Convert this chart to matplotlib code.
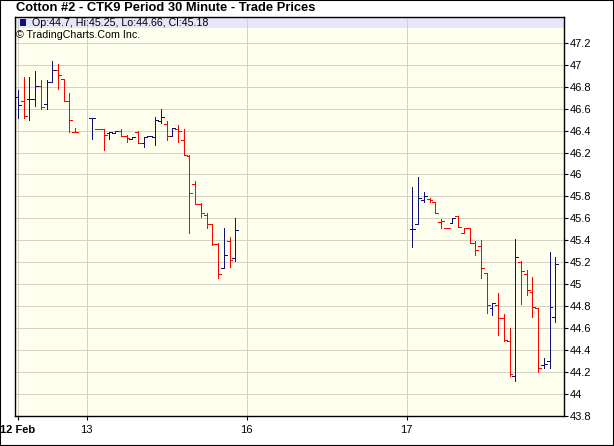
import matplotlib
matplotlib.use('Agg')
import matplotlib.pyplot as plt
import numpy as np
from matplotlib.patches import Rectangle
from matplotlib.ticker import FuncFormatter

plt.rcParams['font.family'] = ['Liberation Sans', 'DejaVu Sans']

title = "Cotton #2 - CTK9 Period 30 Minute - Trade Prices"
credit = "\u00a9 TradingCharts.Com Inc."
day_labels = ['12 Feb', '13', '16', '17']
day_slot = [0, 12, 40, 68]
price_ticks = [43.8, 44.0, 44.2, 44.4, 44.6, 44.8, 45.0, 45.2, 45.4, 45.6,
               45.8, 46.0, 46.2, 46.4, 46.6, 46.8, 47.0, 47.2]

# 30 minute bar slots (12 Feb, 13 Feb, 17 Feb)
bar_slot = list(range(0, 11)) + list(range(13, 39)) + list(range(69, 95))

opens = [46.71, 46.67, 46.69, 46.69, 46.81, 46.64, 46.84, 46.95, 46.87, 46.67, 46.39,
         46.51, 46.41, 46.41, 46.38, 46.38, 46.40, 46.35, 46.32, 46.39, 46.29, 46.35, 46.34, 46.49,
         46.46, 46.35, 46.41, 46.31, 46.17, 45.91, 45.73, 45.63, 45.55, 45.37, 45.15, 45.39, 45.24,
         45.50, 45.55, 45.77, 45.78, 45.75, 45.57, 45.51, 45.56, 45.62, 45.47, 45.51, 45.38, 45.35,
         45.10, 44.78, 44.81, 44.69, 44.48, 44.16, 45.20, 45.09, 44.93, 44.78, 44.26, 44.30, 44.70]
highs = [46.77, 46.89, 46.89, 46.94, 46.86, 46.86, 47.03, 47.01, 46.87, 46.74, 46.42,
         46.51, 46.41, 46.41, 46.39, 46.40, 46.41, 46.36, 46.34, 46.40, 46.34, 46.35, 46.52, 46.60,
         46.49, 46.42, 46.45, 46.41, 46.18, 45.94, 45.74, 45.65, 45.55, 45.38, 45.51, 45.43, 45.60,
         45.89, 45.98, 45.84, 45.79, 45.75, 45.59, 45.51, 45.60, 45.62, 45.51, 45.51, 45.39, 45.40,
         45.10, 44.83, 44.92, 44.73, 44.60, 45.41, 45.21, 45.13, 45.07, 44.78, 44.33, 45.29, 45.25]
lows = [46.51, 46.51, 46.50, 46.62, 46.60, 46.60, 46.84, 46.78, 46.67, 46.39, 46.39,
        46.32, 46.41, 46.22, 46.32, 46.38, 46.35, 46.30, 46.32, 46.29, 46.25, 46.35, 46.27, 46.47,
        46.31, 46.35, 46.30, 46.18, 45.47, 45.73, 45.61, 45.51, 45.36, 45.06, 45.15, 45.16, 45.21,
        45.34, 45.55, 45.75, 45.75, 45.65, 45.51, 45.51, 45.56, 45.52, 45.47, 45.38, 45.27, 45.06,
        44.74, 44.72, 44.54, 44.48, 44.16, 44.12, 44.82, 44.90, 44.70, 44.20, 44.24, 44.24, 44.66]
closes = [46.63, 46.53, 46.69, 46.81, 46.61, 46.84, 46.95, 46.91, 46.67, 46.50, 46.39,
          46.51, 46.41, 46.36, 46.39, 46.40, 46.35, 46.33, 46.34, 46.29, 46.34, 46.35, 46.50, 46.52,
          46.35, 46.42, 46.40, 46.18, 45.83, 45.73, 45.65, 45.55, 45.37, 45.09, 45.27, 45.22, 45.49,
          45.50, 45.79, 45.80, 45.77, 45.65, 45.58, 45.51, 45.60, 45.52, 45.51, 45.38, 45.31, 45.15,
          44.81, 44.83, 44.69, 44.49, 44.18, 45.25, 45.12, 44.95, 44.79, 44.24, 44.27, 44.79, 45.18]

up_col = '#10107a'
dn_col = '#ff0000'

x = np.array(bar_slot)
o = np.array(opens)
h = np.array(highs)
l = np.array(lows)
c = np.array(closes)
up = np.r_[True, c[1:] >= c[:-1]]
cols = np.where(up, up_col, dn_col)

fig = plt.figure(figsize=(6.14, 4.46), dpi=100)
ax = fig.add_axes([14.7 / 614, 30 / 446, 549.3 / 614, 399.3 / 446])
ax.set_facecolor('#ffffee')
ax.set_xlim(-0.58, 95.52)
ax.set_ylim(43.8, 47.437)

ax.vlines(x, l, h, colors=cols, lw=0.6, antialiased=False)
ax.hlines(o, x - 0.5, x, colors=cols, lw=0.6, antialiased=False)
ax.hlines(c, x, x + 0.5, colors=cols, lw=0.6, antialiased=False)

ax.set_axisbelow(True)
ax.set_yticks(price_ticks)
ax.yaxis.set_major_formatter(FuncFormatter(lambda v, p: f"{round(v, 2):g}"))
ax.yaxis.tick_right()
ax.set_xticks(day_slot, day_labels)
ax.get_xticklabels()[0].set_fontweight('bold')
ax.grid(color='#d2d2c6', lw=0.6, antialiased=False)
ax.tick_params(axis='y', direction='out', length=3, width=0.8, pad=1, labelsize=8)
ax.tick_params(axis='x', direction='out', length=3, width=0.8, pad=3.5, labelsize=8)
for s in ax.spines.values():
    s.set_linewidth(1.0)
    s.set_color('black')

ax.add_patch(Rectangle((0, 0.972), 1, 0.028, transform=ax.transAxes,
                       fc='#e6e6f8', ec='none', zorder=0.3))

fig.add_artist(Rectangle((20 / 614, 1 - 25.5 / 446), 6 / 614, 6 / 446,
                         transform=fig.transFigure, fc=up_col, ec='none'))
legend_txt = f"Op:{o[-1]:g}, Hi:{h[-1]:g}, Lo:{l[-1]:g}, Cl:{c[-1]:g}"
fig.text(31.7 / 614, 1 - 25.5 / 446, legend_txt, fontsize=7.7, va='baseline')
fig.text(16.5 / 614, 1 - 38.5 / 446, credit, fontsize=7.7, va='baseline')
fig.text(16 / 614, 1 - 11 / 446, title, fontsize=9.3, fontweight='bold', va='baseline')

fig.add_artist(Rectangle((0, 0), 1, 1, transform=fig.transFigure, fill=False,
                         ec='black', lw=1.5))

fig.savefig('out.png', dpi=100)
